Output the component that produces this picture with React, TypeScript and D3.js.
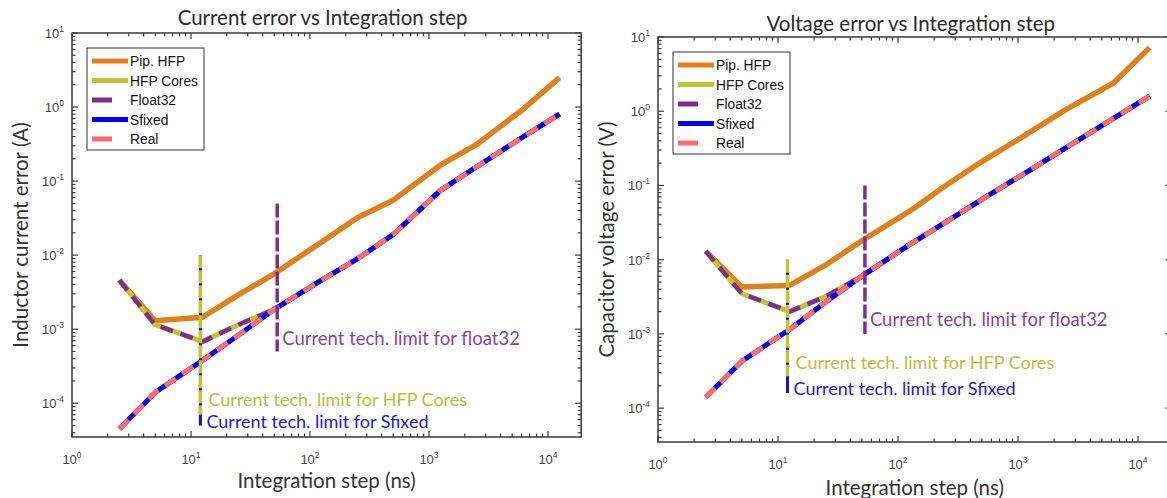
import React from "react";
import * as d3 from "d3";

// integration steps (ns)
const steps = [2.5, 5, 12.5, 25, 50, 125, 250, 500, 1250, 2500, 6250, 12500];

// current error (A)
const currentPipHfp = [4.6e-3, 1.3e-3, 1.45e-3, 2.9e-3, 5.6e-3, 1.5e-2, 3.2e-2, 5.5e-2, 0.165, 0.31, 0.95, 2.5];
const currentHfpCores = [4.6e-3, 1.15e-3, 6.8e-4, 1.15e-3, 1.85e-3, 4.6e-3, 8.9e-3, 1.9e-2, 0.075, 0.155, 0.4, 0.8];
const currentFloat32 = [4.6e-3, 1.15e-3, 6.8e-4, 1.15e-3, 1.85e-3, 4.6e-3, 8.9e-3, 1.9e-2, 0.075, 0.155, 0.4, 0.8];
const currentSfixed = [4.5e-5, 1.4e-4, 3.8e-4, 8.3e-4, 1.85e-3, 4.6e-3, 8.9e-3, 1.9e-2, 0.075, 0.155, 0.4, 0.8];
const currentReal = [4.5e-5, 1.4e-4, 3.8e-4, 8.3e-4, 1.85e-3, 4.6e-3, 8.9e-3, 1.9e-2, 0.075, 0.155, 0.4, 0.8];

// voltage error (V)
const voltagePipHfp = [1.3e-2, 4.3e-3, 4.5e-3, 8.5e-3, 1.8e-2, 4.5e-2, 0.1, 0.21, 0.52, 1.05, 2.4, 7.2];
const voltageHfpCores = [1.3e-2, 3.5e-3, 2.0e-3, 3.2e-3, 6e-3, 1.6e-2, 3.2e-2, 6.5e-2, 0.16, 0.32, 0.8, 1.6];
const voltageFloat32 = [1.3e-2, 3.5e-3, 2.0e-3, 3.2e-3, 6e-3, 1.6e-2, 3.2e-2, 6.5e-2, 0.16, 0.32, 0.8, 1.6];
const voltageSfixed = [1.4e-4, 4.3e-4, 1.15e-3, 2.7e-3, 6e-3, 1.6e-2, 3.2e-2, 6.5e-2, 0.16, 0.32, 0.8, 1.6];
const voltageReal = [1.4e-4, 4.3e-4, 1.15e-3, 2.7e-3, 6e-3, 1.6e-2, 3.2e-2, 6.5e-2, 0.16, 0.32, 0.8, 1.6];

const seriesNames = ["Pip. HFP", "HFP Cores", "Float32", "Sfixed", "Real"];
const seriesColors = ["#e0801a", "#c4c430", "#7e2f8e", "#0000ff", "#fb6c6c"];
const seriesDash = ["", "", "13,8", "", "13,8"];
const seriesWidth = [5.5, 5, 4.5, 5, 5];

// technology limits: [step, top, bottom, label y]
const currentLimits = {
  float32: [53, 0.05, 5e-4, 7.3e-4],
  hfp: [12, 1e-2, 7e-5, 1.12e-4],
  sfixed: [12, 1e-2, 5e-5, 5.5e-5],
};
const voltageLimits = {
  float32: [53, 0.1, 1e-3, 1.55e-3],
  hfp: [12, 1e-2, 2.7e-4, 4.0e-4],
  sfixed: [12, 1e-2, 1.6e-4, 1.8e-4],
};

const xDomain = [1, 19000];
const yDomain = [3.5e-5, 10];
const font = "Lato, 'Open Sans', sans-serif";
const axisColor = "#3a3a3a";

const Panel = ({ x0, y0, y1, decade, title, yTitle, data, limits, titleDy, xTitleDy }) => {
  const x = d3
    .scaleLog()
    .domain(xDomain)
    .range([x0, x0 + decade * Math.log10(xDomain[1])]);
  const y = d3.scaleLog().domain(yDomain).range([y1, y0]);
  const [xa, xb] = x.range();

  const line = d3
    .line()
    .x((d) => x(d[0]))
    .y((d) => y(d[1]));

  const isMajor = (v) => Math.abs(Math.log10(v) - Math.round(Math.log10(v))) < 1e-6;
  const xTicks = x.ticks();
  const yTicks = y.ticks();

  const lg = { x: x0 + 15, y: y0 + 15, w: 117, h: 102 };

  const sup = (e) => (
    <>
      10<tspan dy={-6} fontSize={8.5}>{e}</tspan>
    </>
  );

  const drawLimit = (lim, color, width, dash) => (
    <line
      x1={x(lim[0])}
      x2={x(lim[0])}
      y1={y(lim[1])}
      y2={y(lim[2])}
      stroke={color}
      strokeWidth={width}
      strokeDasharray={dash}
    />
  );

  return (
    <g>
      <text x={(xa + xb) / 2 - 4} y={y0 - titleDy} textAnchor="middle" fontFamily={font} fontSize={20.5} fill="#2a2a2a">
        {title}
      </text>
      {/* box */}
      <rect x={xa} y={y0} width={xb - xa} height={y1 - y0} fill="none" stroke={axisColor} strokeWidth={1.5} />
      {/* x ticks */}
      {xTicks.map((t, i) => {
        const len = isMajor(t) ? 6 : 3.5;
        return (
          <g key={"xt" + i} stroke={axisColor} strokeWidth={1.2}>
            <line x1={x(t)} x2={x(t)} y1={y1} y2={y1 - len} />
            <line x1={x(t)} x2={x(t)} y1={y0} y2={y0 + len} />
          </g>
        );
      })}
      {xTicks.filter(isMajor).map((t, i) => (
        <text key={"xl" + i} x={x(t)} y={y1 + 27} textAnchor="middle" fontFamily="'Liberation Sans', Arial, sans-serif" fontSize={13} fill="#444">
          {sup(Math.round(Math.log10(t)))}
        </text>
      ))}
      {/* y ticks */}
      {yTicks.map((t, i) => {
        const len = isMajor(t) ? 6 : 3.5;
        return (
          <g key={"yt" + i} stroke={axisColor} strokeWidth={1.2}>
            <line x1={xa} x2={xa + len} y1={y(t)} y2={y(t)} />
            <line x1={xb} x2={xb - len} y1={y(t)} y2={y(t)} />
          </g>
        );
      })}
      {yTicks.filter(isMajor).map((t, i) => (
        <text key={"yl" + i} x={xa - 8} y={y(t) + 5} textAnchor="end" fontFamily="'Liberation Sans', Arial, sans-serif" fontSize={13} fill="#444">
          {sup(Math.round(Math.log10(t)))}
        </text>
      ))}
      <text x={(xa + xb) / 2} y={y1 + xTitleDy} textAnchor="middle" fontFamily={font} fontSize={20.5} fill="#333">
        Integration step (ns)
      </text>
      <text
        transform={`translate(${xa - 44},${(y0 + y1) / 2}) rotate(-90)`}
        textAnchor="middle"
        fontFamily={font}
        fontSize={20.5}
        fill="#333"
      >
        {yTitle}
      </text>
      {/* series */}
      {data.map((vals, i) => (
        <path
          key={"s" + i}
          d={line(steps.map((s, j) => [s, vals[j]]))}
          fill="none"
          stroke={seriesColors[i]}
          strokeWidth={seriesWidth[i]}
          strokeDasharray={seriesDash[i] || undefined}
          strokeLinejoin="round"
        />
      ))}
      {/* limits */}
      {drawLimit(limits.sfixed, "#1010e0", 3, undefined)}
      {drawLimit(limits.hfp, "#c4c430", 3.5, "13,2")}
      {drawLimit(limits.float32, "#7e2f8e", 3.5, "14,3")}
      <text x={x(limits.float32[0]) + 5} y={y(limits.float32[3]) + 6} fontFamily={font} fontSize={18.5} fill="#8f3f9b">
        Current tech. limit for float32
      </text>
      <text x={x(limits.hfp[0]) + 8} y={y(limits.hfp[3]) + 6} fontFamily={font} fontSize={18} fill="#bcbc3a">
        Current tech. limit for HFP Cores
      </text>
      <text x={x(limits.sfixed[0]) + 6} y={y(limits.sfixed[3]) + 6} fontFamily={font} fontSize={18} fill="#1a1ae0">
        Current tech. limit for Sfixed
      </text>
      {/* legend */}
      <rect x={lg.x} y={lg.y} width={lg.w} height={lg.h} fill="#fff" stroke="#333" strokeWidth={1} />
      {seriesNames.map((n, i) => {
        const ly = lg.y + 13 + i * 19.5;
        return (
          <g key={"lg" + i}>
            <line
              x1={lg.x + 5}
              x2={lg.x + 41}
              y1={ly}
              y2={ly}
              stroke={seriesColors[i]}
              strokeWidth={5}
              strokeDasharray={seriesDash[i] ? "20,20" : undefined}
            />
            <text x={lg.x + 43} y={ly + 5} fontFamily="'Liberation Sans', Arial, sans-serif" fontSize={13.8} fill="#111">
              {n}
            </text>
          </g>
        );
      })}
    </g>
  );
};

export default function App() {
  return (
    <svg width={1167} height={498} style={{ position: "absolute", left: 0, top: 0, background: "#fff" }}>
      <rect width={1167} height={498} fill="#fff" />
      <Panel
        x0={72}
        y0={33}
        y1={437}
        decade={119}
        title="Current error vs Integration step"
        yTitle="Inductor current error (A)"
        data={[currentPipHfp, currentHfpCores, currentFloat32, currentSfixed, currentReal]}
        limits={currentLimits}
        titleDy={8}
        xTitleDy={51}
      />
      <Panel
        x0={658}
        y0={37}
        y1={442}
        decade={120}
        title="Voltage error vs Integration step"
        yTitle="Capacitor voltage error (V)"
        data={[voltagePipHfp, voltageHfpCores, voltageFloat32, voltageSfixed, voltageReal]}
        limits={voltageLimits}
        titleDy={6}
        xTitleDy={53}
      />
    </svg>
  );
}
